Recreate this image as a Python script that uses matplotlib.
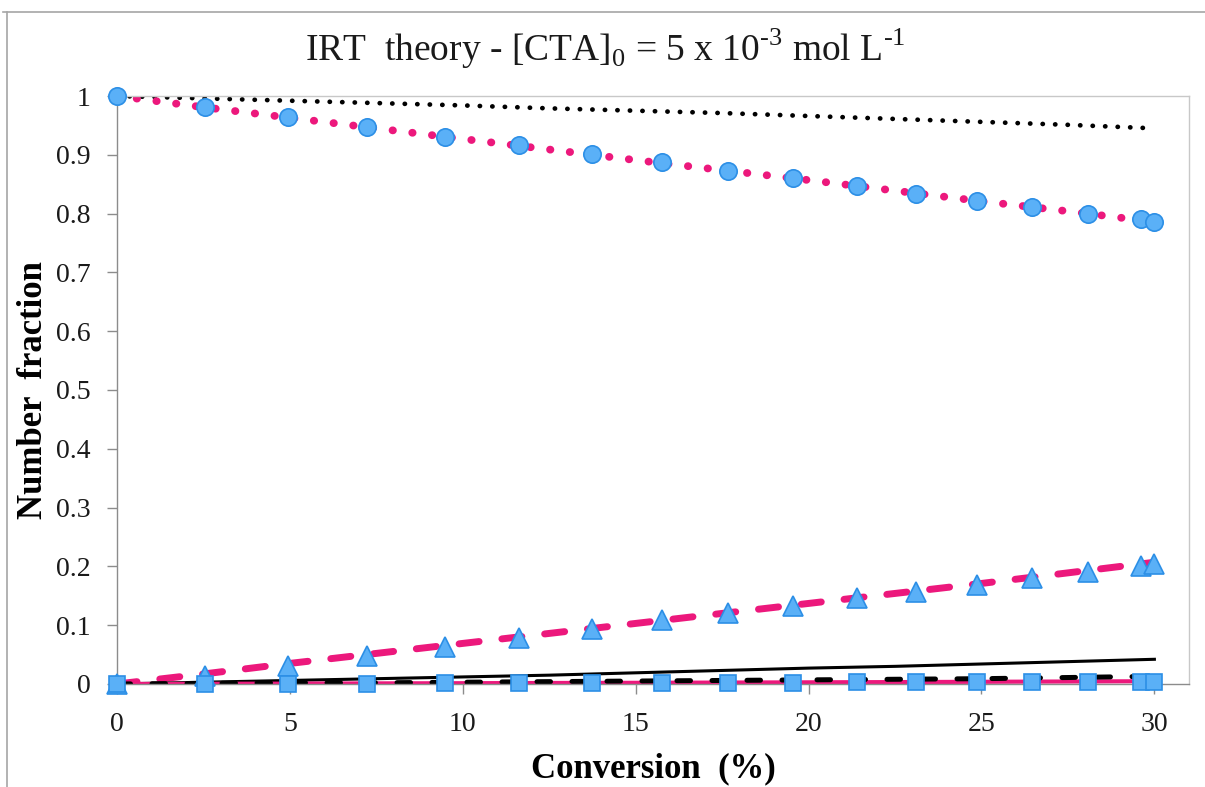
import matplotlib
matplotlib.use("Agg")
import matplotlib.pyplot as plt
from matplotlib.lines import Line2D

# blue marker series (simulation points)
sim_x = [0, 2.54, 4.94, 7.23, 9.48, 11.62, 13.73, 15.75, 17.66, 19.54,
         21.39, 23.12, 24.86, 26.47, 28.09, 29.62, 30.0]
sim_circle = [1.0, 0.982, 0.965, 0.948, 0.931, 0.917, 0.902, 0.887, 0.872, 0.860,
              0.847, 0.834, 0.822, 0.812, 0.800, 0.790, 0.786]
sim_triangle = [0.0, 0.013, 0.031, 0.048, 0.063, 0.078, 0.093, 0.108, 0.120, 0.133,
                0.146, 0.157, 0.168, 0.181, 0.191, 0.201, 0.204]
sim_square = [0.0, 0.0, 0.0005, 0.0008, 0.001, 0.0013, 0.0016, 0.0019, 0.0022, 0.0025,
              0.0028, 0.003, 0.0033, 0.0035, 0.0038, 0.004, 0.004]

# theory curves
th_x = [0, 2.5, 5, 7.5, 10, 12.5, 15, 17.5, 20, 22.5, 25, 27.5, 30]
th_black_dot = [1.0, 0.996, 0.992, 0.988, 0.984, 0.979, 0.975, 0.971, 0.966, 0.961, 0.956, 0.951, 0.945]
th_pink_dot = [1.0, 0.981, 0.963, 0.945, 0.927, 0.909, 0.891, 0.874, 0.857, 0.839, 0.821, 0.804, 0.786]
th_pink_dash = [0.0, 0.017, 0.035, 0.052, 0.069, 0.086, 0.103, 0.120, 0.137, 0.154, 0.171, 0.189, 0.207]
th_black_solid = [0.0, 0.003, 0.006, 0.009, 0.012, 0.015, 0.019, 0.023, 0.027, 0.030, 0.034, 0.038, 0.042]
th_black_dash = [0.0, 0.001, 0.002, 0.002, 0.003, 0.004, 0.005, 0.006, 0.007, 0.008, 0.009, 0.011, 0.013]
th_pink_solid = [0.0, 0.0003, 0.0006, 0.001, 0.0013, 0.0017, 0.002, 0.0024, 0.0028, 0.0032, 0.0037, 0.0042, 0.0047]

xticks = [0, 5, 10, 15, 20, 25, 30]
yticks = [0, 0.1, 0.2, 0.3, 0.4, 0.5, 0.6, 0.7, 0.8, 0.9, 1]
ytick_labels = ["0", "0.1", "0.2", "0.3", "0.4", "0.5", "0.6", "0.7", "0.8", "0.9", "1"]

pink = "#EC187C"
blue_face = "#5AB0F7"
blue_edge = "#2C8FE6"
serif = "Liberation Serif"

plt.rcParams["mathtext.fontset"] = "custom"
plt.rcParams["mathtext.rm"] = serif

fig = plt.figure(figsize=(12.05, 7.87), dpi=100)
ax = fig.add_axes([0.0971, 0.1309, 0.8896, 0.7471])

ax.plot(th_x, th_black_dot, color="black", lw=3.4, linestyle=(0, (0.05, 2.6)),
        dash_capstyle="round", zorder=2)
ax.plot(th_x, th_pink_dot, color=pink, lw=5.6, linestyle=(0, (0.05, 2.5)),
        dash_capstyle="round", zorder=2)
ax.plot(th_x, th_pink_dash, color=pink, lw=5.0, linestyle=(0, (2.9, 3.3)),
        dash_capstyle="round", zorder=2)
ax.plot(th_x, th_black_solid, color="black", lw=2.2, zorder=2)
ax.plot(th_x, th_pink_solid, color=pink, lw=3.0, zorder=2)
ax.plot(th_x, th_black_dash, color="black", lw=3.6, linestyle=(0, (2.7, 4.3)),
        dash_capstyle="round", zorder=2)

ax.plot(sim_x, sim_circle, "o", ms=12.5, mfc=blue_face, mec=blue_edge, mew=1.2, zorder=3, clip_on=False)
ax.plot(sim_x, sim_triangle, "^", ms=15, mfc=blue_face, mec=blue_edge, mew=1.2, zorder=3, clip_on=False)
ax.plot(sim_x, sim_square, "s", ms=12, mfc=blue_face, mec=blue_edge, mew=1.2, zorder=3, clip_on=False)

ax.set_xlim(0, 31)
ax.set_ylim(0, 1)
ax.set_xticks(xticks)
ax.set_yticks(yticks)
ax.set_yticklabels(ytick_labels)

for side in ["left", "bottom"]:
    ax.spines[side].set_color("#8C8C8C")
    ax.spines[side].set_linewidth(1.0)
for side in ["top", "right"]:
    ax.spines[side].set_color("#C8C8C8")
    ax.spines[side].set_linewidth(1.0)

ax.tick_params(axis="both", direction="out", length=7, width=1.0, color="#8C8C8C",
               labelsize=20, labelcolor="#1A1A1A")
ax.tick_params(axis="x", pad=13)
ax.tick_params(axis="y", pad=12)
for lbl in ax.get_xticklabels() + ax.get_yticklabels():
    lbl.set_fontfamily(serif)

ax.set_xlabel("Conversion  (%)", fontsize=25, fontweight="bold", family=serif, labelpad=11)
ax.set_ylabel("Number  fraction", fontsize=25, fontweight="bold", family=serif, labelpad=4)

fig.text(0.502, 0.938, "IRT  theory - [CTA]$_0$ = 5 x 10$^{\u2010 3}$ mol L$^{\u2010 1}$",
         ha="center", va="center", fontsize=27, family=serif, color="#1A1A1A")

# outer chart border
fig.add_artist(Line2D([3 / 1205, 1], [1 - 12 / 787, 1 - 12 / 787], color="#A6A6A6", lw=1.2))
fig.add_artist(Line2D([7 / 1205, 7 / 1205], [0, 1 - 12 / 787], color="#A6A6A6", lw=1.2))

fig.savefig("out.png", dpi=100)
